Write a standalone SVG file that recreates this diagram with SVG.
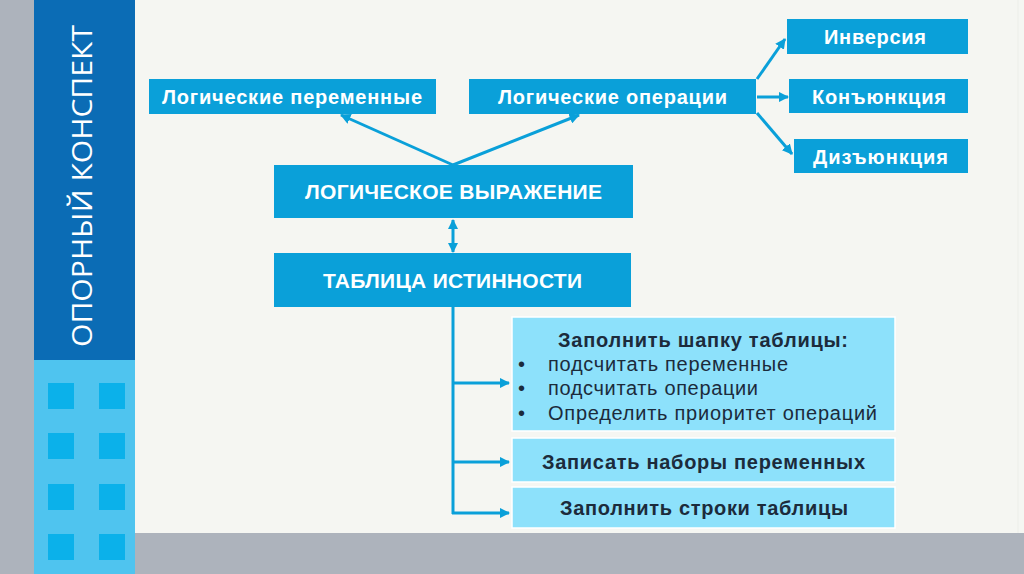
<svg xmlns="http://www.w3.org/2000/svg" width="1024" height="574" viewBox="0 0 1024 574">
<defs>
<style>
.bx{fill:#0aa0d9}
.lb{fill:#8de1fb;stroke:#ffffff;stroke-width:1.5}
.wt{font-family:"Liberation Sans",Arial,sans-serif;font-weight:bold;fill:#ffffff;text-anchor:middle}
.dt{font-family:"Liberation Sans",Arial,sans-serif;fill:#1c2b3b}
.ln{stroke:#0aa0d9;stroke-width:3;fill:none}
.sq{fill:#0bb1ea}
</style>
<marker id="ah" viewBox="0 0 10 10" refX="9" refY="5" markerWidth="3.5" markerHeight="3.5" orient="auto-start-reverse">
<path d="M0,0 L10,5 L0,10 Z" fill="#0aa0d9"/>
</marker>
</defs>
<rect x="0" y="0" width="1024" height="574" fill="#f5f6f2"/>
<line x1="1018" y1="0" x2="1018" y2="533" stroke="#eceee9" stroke-width="1"/>
<rect x="0" y="0" width="34" height="574" fill="#adb3bc"/>
<rect x="135" y="533" width="889" height="41" fill="#adb3bc"/>
<rect x="34" y="0" width="101" height="360" fill="#0b6cb5"/>
<rect x="34" y="360" width="101" height="214" fill="#4fc4ef"/>
<g id="squares">
<rect class="sq" x="48" y="383" width="26" height="26"/>
<rect class="sq" x="99" y="383" width="26" height="26"/>
<rect class="sq" x="48" y="433" width="26" height="26"/>
<rect class="sq" x="99" y="433" width="26" height="26"/>
<rect class="sq" x="48" y="484" width="26" height="26"/>
<rect class="sq" x="99" y="484" width="26" height="26"/>
<rect class="sq" x="48" y="534" width="26" height="26"/>
<rect class="sq" x="99" y="534" width="26" height="26"/>
</g>
<text x="0" y="0" transform="translate(92,186) rotate(-90)" text-anchor="middle" font-family="'Open Sans',sans-serif" font-size="28" fill="#ffffff" textLength="322" lengthAdjust="spacingAndGlyphs">ОПОРНЫЙ КОНСПЕКТ</text>

<g id="connectors">
<line class="ln" x1="453" y1="165" x2="341" y2="115" marker-end="url(#ah)"/>
<line class="ln" x1="453" y1="165" x2="579" y2="115" marker-end="url(#ah)"/>
<line class="ln" x1="757" y1="79" x2="785" y2="39" marker-end="url(#ah)"/>
<line class="ln" x1="757" y1="97" x2="788" y2="97" marker-end="url(#ah)"/>
<line class="ln" x1="757" y1="113" x2="792" y2="154" marker-end="url(#ah)"/>
<line class="ln" x1="453" y1="220" x2="453" y2="252" marker-start="url(#ah)" marker-end="url(#ah)"/>
<line class="ln" x1="453" y1="307" x2="453" y2="514"/>
<line class="ln" x1="452" y1="383" x2="509" y2="383" marker-end="url(#ah)"/>
<line class="ln" x1="452" y1="462" x2="509" y2="462" marker-end="url(#ah)"/>
<line class="ln" x1="452" y1="513" x2="509" y2="513" marker-end="url(#ah)"/>
</g>

<g id="n-vars">
<rect class="bx" x="149" y="79" width="287" height="35"/>
<text class="wt" x="292" y="104" font-size="20" textLength="260" lengthAdjust="spacing">Логические переменные</text>
</g>
<g id="n-ops">
<rect class="bx" x="469" y="79" width="287" height="35"/>
<text class="wt" x="612.5" y="104" font-size="20" textLength="229" lengthAdjust="spacing">Логические операции</text>
</g>
<g id="n-inv">
<rect class="bx" x="787" y="19" width="181" height="35"/>
<text class="wt" x="875" y="44" font-size="20" textLength="102" lengthAdjust="spacing">Инверсия</text>
</g>
<g id="n-con">
<rect class="bx" x="789" y="79" width="179" height="34"/>
<text class="wt" x="879" y="104" font-size="20" textLength="134" lengthAdjust="spacing">Конъюнкция</text>
</g>
<g id="n-dis">
<rect class="bx" x="794" y="139" width="174" height="34"/>
<text class="wt" x="880.5" y="164" font-size="20" textLength="135" lengthAdjust="spacing">Дизъюнкция</text>
</g>
<g id="n-expr">
<rect class="bx" x="274" y="165" width="359" height="53"/>
<text class="wt" x="453.5" y="199" font-size="21" textLength="297" lengthAdjust="spacing">ЛОГИЧЕСКОЕ ВЫРАЖЕНИЕ</text>
</g>
<g id="n-table">
<rect class="bx" x="274" y="253" width="357" height="54"/>
<text class="wt" x="452.5" y="288" font-size="21" textLength="259" lengthAdjust="spacing">ТАБЛИЦА ИСТИННОСТИ</text>
</g>
<g id="n-head">
<rect class="lb" x="512" y="317" width="383" height="114"/>
<text class="dt" x="703" y="347" font-size="20" font-weight="bold" text-anchor="middle" textLength="290" lengthAdjust="spacing">Заполнить шапку таблицы:</text>
<text class="dt" x="518" y="371" font-size="20">•</text>
<text class="dt" x="548" y="371" font-size="20" textLength="240" lengthAdjust="spacing">подсчитать переменные</text>
<text class="dt" x="518" y="395" font-size="20">•</text>
<text class="dt" x="548" y="395" font-size="20" textLength="210" lengthAdjust="spacing">подсчитать операции</text>
<text class="dt" x="518" y="420" font-size="20">•</text>
<text class="dt" x="548" y="420" font-size="20" textLength="329" lengthAdjust="spacing">Определить приоритет операций</text>
</g>
<g id="n-sets">
<rect class="lb" x="512" y="438" width="383" height="44"/>
<text class="dt" x="703.5" y="469" font-size="20" font-weight="bold" text-anchor="middle" textLength="323" lengthAdjust="spacing">Записать наборы переменных</text>
</g>
<g id="n-rows">
<rect class="lb" x="512" y="487" width="383" height="41"/>
<text class="dt" x="704" y="515" font-size="20" font-weight="bold" text-anchor="middle" textLength="288" lengthAdjust="spacing">Заполнить строки таблицы</text>
</g>
</svg>
